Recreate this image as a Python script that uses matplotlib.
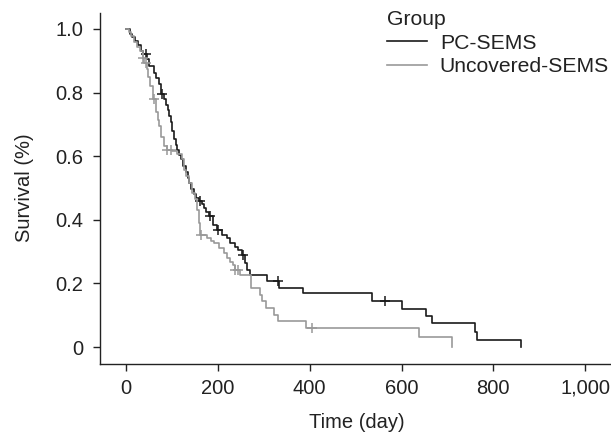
import matplotlib
matplotlib.use("Agg")
import matplotlib.pyplot as plt

plt.rcParams['font.family'] = ['Liberation Sans', 'DejaVu Sans']

# PC-SEMS (black) Kaplan-Meier steps
pc_t = [0, 8, 14, 20, 26, 32, 38, 45, 50, 61, 66, 72, 76, 82, 87, 91, 94, 98, 101, 105,
        108, 112, 116, 119, 124, 130, 134, 137, 142, 148, 153, 159, 165, 169, 175, 180,
        190, 198, 209, 220, 227, 238, 245, 252, 260, 263, 271, 307, 333, 385, 536, 600,
        653, 667, 760, 765, 861]
pc_s = [1.0, 0.985, 0.975, 0.963, 0.95, 0.93, 0.92, 0.905, 0.884, 0.863, 0.847, 0.826,
        0.795, 0.78, 0.762, 0.745, 0.725, 0.707, 0.68, 0.653, 0.636, 0.62, 0.605, 0.59,
        0.57, 0.549, 0.533, 0.517, 0.498, 0.48, 0.469, 0.458, 0.45, 0.437, 0.424, 0.411,
        0.385, 0.369, 0.353, 0.343, 0.327, 0.316, 0.306, 0.29, 0.264, 0.243, 0.227, 0.209,
        0.187, 0.169, 0.145, 0.12, 0.099, 0.075, 0.048, 0.022, 0.0]
pc_cens_t = [43, 78, 162, 184, 200, 255, 330, 563]

# Uncovered-SEMS (gray)
un_t = [0, 6, 11, 18, 25, 30, 36, 40, 45, 48, 52, 58, 66, 69, 72, 76, 83, 90, 101, 112,
        123, 126, 130, 137, 144, 151, 155, 159, 161, 177, 185, 191, 202, 213, 220, 227,
        234, 238, 249, 272, 292, 297, 304, 323, 332, 393, 638, 709]
un_s = [1.0, 0.99, 0.979, 0.96, 0.943, 0.93, 0.91, 0.893, 0.874, 0.849, 0.82, 0.779,
        0.738, 0.715, 0.695, 0.659, 0.632, 0.621, 0.616, 0.606, 0.59, 0.558, 0.537, 0.516,
        0.484, 0.464, 0.432, 0.39, 0.353, 0.343, 0.335, 0.327, 0.311, 0.295, 0.28, 0.269,
        0.259, 0.243, 0.227, 0.185, 0.164, 0.145, 0.124, 0.101, 0.082, 0.061, 0.031, 0.0]
un_cens_t = [37, 43, 61, 90, 97, 163, 238, 243, 404]

groups = ["PC-SEMS", "Uncovered-SEMS"]
colors = ["#1a1a1a", "#999999"]

x_ticks = [0, 200, 400, 600, 800, 1000]
x_labels = ["0", "200", "400", "600", "800", "1,000"]
y_ticks = [0, 0.2, 0.4, 0.6, 0.8, 1.0]
y_labels = ["0", "0.2", "0.4", "0.6", "0.8", "1.0"]

FS = 14.5
LFS = 15.2
TXT = '#222222'


def surv_at(ts, ss, t):
    v = ss[0]
    for tt, s in zip(ts, ss):
        if tt <= t:
            v = s
        else:
            break
    return v


W, H = 611, 432
fig = plt.figure(figsize=(W / 100, H / 100), dpi=100)
ax = fig.add_axes([100 / W, 1 - 364 / H, 510 / W, 351 / H])

for (ts, ss, cs), name, col in zip([(pc_t, pc_s, pc_cens_t), (un_t, un_s, un_cens_t)],
                                   groups, colors):
    ax.step(ts, ss, where='post', color=col, lw=1.2, label=name)
    ax.plot(cs, [surv_at(ts, ss, c) for c in cs], linestyle='none', marker='+',
            color=col, ms=6.5, mew=1.1)

ax.set_xlim(-56.6, 1054)
ax.set_ylim(-0.053, 1.05)
ax.set_xticks(x_ticks)
ax.set_xticklabels(x_labels)
ax.set_yticks(y_ticks)
ax.set_yticklabels(y_labels)
ax.spines['top'].set_visible(False)
ax.spines['right'].set_visible(False)
for sp in ['left', 'bottom']:
    ax.spines[sp].set_linewidth(1.0)
    ax.spines[sp].set_color(TXT)
ax.tick_params(direction='out', length=5.2, width=1.0, labelsize=FS, colors=TXT)
ax.tick_params(axis='x', pad=5.4)
ax.tick_params(axis='y', pad=7)

fig.text(357 / W, 1 - 428 / H, "Time (day)", fontsize=FS, color=TXT,
         ha='center', va='baseline')
fig.text(24 / W, 1 - 188 / H, "Survival (%)", fontsize=FS, color=TXT,
         ha='center', va='center', rotation=90)

leg = ax.legend(title="Group", loc='upper left', bbox_to_anchor=(387 / W, 1 - 10 / H),
                bbox_transform=fig.transFigure, frameon=False, fontsize=LFS,
                title_fontsize=LFS, handlelength=1.9, handletextpad=0.6,
                labelspacing=0.22, borderpad=0, borderaxespad=0, alignment='left')
for t in leg.get_texts():
    t.set_color(TXT)
leg.get_title().set_color(TXT)

fig.savefig("out.png", dpi=100)
